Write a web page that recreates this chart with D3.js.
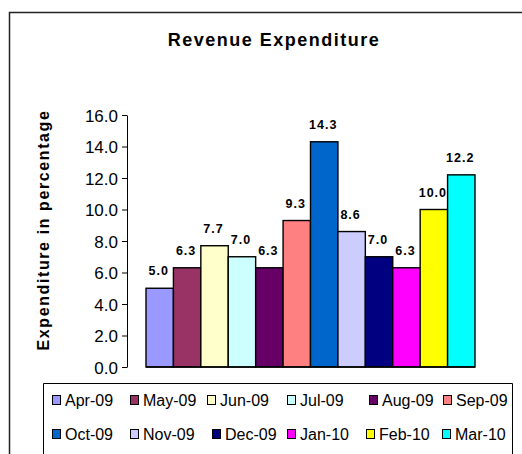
<!DOCTYPE html>
<html>
<head>
<meta charset="utf-8">
<script src="https://cdn.jsdelivr.net/npm/d3@7"></script>
<style>
  html, body { margin: 0; padding: 0; background: #fff; }
  svg { display: block; font-family: "Liberation Sans", Arial, sans-serif; }
</style>
</head>
<body>
<svg id="chart" width="522" height="454"></svg>
<script>
// データ
const months = ["Apr-09", "May-09", "Jun-09", "Jul-09", "Aug-09", "Sep-09",
  "Oct-09", "Nov-09", "Dec-09", "Jan-10", "Feb-10", "Mar-10"];
const values = [5.0, 6.3, 7.7, 7.0, 6.3, 9.3, 14.3, 8.6, 7.0, 6.3, 10.0, 12.2];
const colors = ["#9999ff", "#993366", "#ffffcc", "#ccffff", "#660066", "#ff8080",
  "#0066cc", "#ccccff", "#000080", "#ff00ff", "#ffff00", "#00ffff"];
const yTicks = [0, 2, 4, 6, 8, 10, 12, 14, 16];

const FONT = "Liberation Sans, Arial, sans-serif";
const svg = d3.select("#chart");

// 外枠
svg.append("path")
  .attr("d", "M9.5,454 V12.5 H522")
  .attr("fill", "none")
  .attr("stroke", "#222")
  .attr("stroke-width", 1.5);

// タイトル
svg.append("text")
  .attr("x", 274)
  .attr("y", 46)
  .attr("text-anchor", "middle")
  .attr("font-size", 18)
  .attr("font-weight", "bold")
  .attr("letter-spacing", 1.5)
  .text("Revenue Expenditure");

// スケール
const x = d3.scaleBand().domain(months).range([146, 475]).padding(0);
const y = d3.scaleLinear().domain([0, 16]).range([367, 115]);

// Y軸
const yAxis = d3.axisLeft(y)
  .tickValues(yTicks)
  .tickFormat(d3.format(".1f"))
  .tickSize(5)
  .tickSizeOuter(0);

const gy = svg.append("g")
  .attr("transform", "translate(127,0)")
  .call(yAxis);
gy.select(".domain").attr("stroke", "#000");
gy.selectAll(".tick line").attr("stroke", "#000");
gy.selectAll(".tick text")
  .attr("x", -9)
  .attr("dy", "0.36em")
  .attr("font-size", 17)
  .attr("font-family", FONT)
  .attr("fill", "#000");

// Y軸タイトル
svg.append("text")
  .attr("transform", "translate(49,230) rotate(-90)")
  .attr("text-anchor", "middle")
  .attr("font-size", 16)
  .attr("font-weight", "bold")
  .attr("letter-spacing", 1.6)
  .text("Expenditure in percentage");

// 棒
svg.append("g")
  .selectAll("rect")
  .data(values)
  .join("rect")
  .attr("x", (d, i) => x(months[i]))
  .attr("y", d => y(d))
  .attr("width", x.bandwidth())
  .attr("height", d => y(0) - y(d))
  .attr("fill", (d, i) => colors[i])
  .attr("stroke", "#000")
  .attr("stroke-width", 1.4);

// X軸の基線
svg.append("line")
  .attr("x1", x.range()[0])
  .attr("x2", x.range()[1])
  .attr("y1", y(0))
  .attr("y2", y(0))
  .attr("stroke", "#000")
  .attr("stroke-width", 1.4);

// 値ラベル
svg.append("g")
  .selectAll("text")
  .data(values)
  .join("text")
  .attr("x", (d, i) => x(months[i]) + x.bandwidth() / 2 - 1)
  .attr("y", d => y(d) - 13)
  .attr("text-anchor", "middle")
  .attr("font-size", 12.5)
  .attr("font-weight", "bold")
  .attr("letter-spacing", 1)
  .text(d => d.toFixed(1));

// 凡例
svg.append("path")
  .attr("d", "M43.5,454 V383.5 H512.5 V454")
  .attr("fill", "none")
  .attr("stroke", "#000")
  .attr("stroke-width", 1);

const legendX = [52, 130, 207, 287, 369, 443, 52, 130, 212, 287, 366, 442];
const rowY = [400, 434];

const items = svg.append("g")
  .selectAll("g")
  .data(months)
  .join("g")
  .attr("transform", (d, i) => `translate(${legendX[i]},${rowY[Math.floor(i / 6)]})`);

items.append("rect")
  .attr("x", 0.5)
  .attr("y", -4.5)
  .attr("width", 8)
  .attr("height", 9)
  .attr("fill", (d, i) => colors[i])
  .attr("stroke", "#000")
  .attr("stroke-width", 1);

items.append("text")
  .attr("x", 13)
  .attr("y", 6)
  .attr("font-size", 16)
  .text(d => d);
</script>
</body>
</html>
